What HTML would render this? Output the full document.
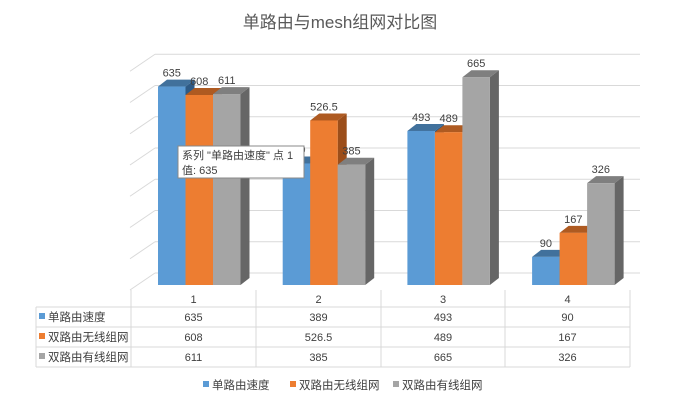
<!DOCTYPE html>
<html><head><meta charset="utf-8"><style>
body{margin:0;background:#fff;}
svg text{font-family:"Liberation Sans","Noto Sans CJK SC",sans-serif;}
</style></head><body>
<svg width="680" height="406" id="c">
<text x="340" y="28" text-anchor="middle" font-size="17" fill="#595959">单路由与mesh组网对比图</text>
<g id="grid"></g><g id="bars"></g><g id="table"></g>
<g>
<rect x="178" y="146" width="126" height="32" fill="#fff" stroke="#888" stroke-width="1"/>
<text x="182" y="159" font-size="11" fill="#404040">系列 "单路由速度" 点 1</text>
<text x="182" y="174" font-size="11" fill="#404040">值: 635</text>
</g>
<g id="legend"></g>
</svg>
<script>
const categories=["1","2","3","4"];
const seriesNames=["单路由速度","双路由无线组网","双路由有线组网"];
const s1=[635,389,493,90];
const s2=[608,526.5,489,167];
const s3=[611,385,665,326];
const ticks=[0,100,200,300,400,500,600,700];
const series=[s1,s2,s3];
const cols=["#5b9bd5","#ed7d31","#a5a5a5"];
const tops=["#41719c","#ae5a21","#7f7f7f"];
const sides=["#2e5a85","#9c4e1a","#666666"];
const NS="http://www.w3.org/2000/svg";
function mk(p,tag,a){const e=document.createElementNS(NS,tag);for(const k in a)e.setAttribute(k,a[k]);p.appendChild(e);return e;}
const yF=v=>285-v*0.3125, yB=v=>273-v*0.3125;
const G=document.getElementById('grid');
ticks.forEach(t=>{
 const l=mk(G,'line',{x1:155,x2:640,y1:yB(t),y2:yB(t),stroke:"#d9d9d9","stroke-width":1});
 
 
 const d=mk(G,'line',{x1:130,x2:155,y1:yB(t)+17,y2:yB(t),stroke:"#d9d9d9","stroke-width":1});
 
 
});
const B=document.getElementById('bars');
const bw=27.5,dx=9,dy=7;
categories.forEach((c,i)=>{
 const gx=158+i*124.7;
 series.forEach((s,j)=>{
  const v=s[i],x=gx+j*bw,y=yF(v),h=285-y;
  const g=mk(B,'g',{});
  
  
  mk(g,'polygon',{points:`${x+bw},${y} ${x+bw+dx},${y-dy} ${x+bw+dx},${285-dy} ${x+bw},285`,fill:sides[j]});
  mk(g,'polygon',{points:`${x},${y} ${x+dx},${y-dy} ${x+bw+dx},${y-dy} ${x+bw},${y}`,fill:tops[j]});
  mk(g,'rect',{x:x,y:y,width:bw,height:h,fill:cols[j]});
  const t=mk(g,'text',{x:x+bw/2,y:y-10,"text-anchor":"middle","font-size":11,fill:"#404040"});
  t.textContent=v;
 });
});
const T=document.getElementById('table');
const cx=[131,256,381,505,630];
mk(T,'line',{x1:131,x2:131,y1:290,y2:367,stroke:"#d9d9d9"});
cx.slice(1).forEach(x=>mk(T,'line',{x1:x,x2:x,y1:290,y2:367,stroke:"#d9d9d9"}));
[307,327,347,367].forEach(y=>mk(T,'line',{x1:36,x2:630,y1:y,y2:y,stroke:"#d9d9d9"}));
mk(T,'line',{x1:36,x2:36,y1:307,y2:367,stroke:"#d9d9d9"});
categories.forEach((c,i)=>{
 const t=mk(T,'text',{x:(cx[i]+cx[i+1])/2,y:303,"text-anchor":"middle","font-size":11,fill:"#404040"});
 
 
 t.textContent=c;
});
series.forEach((s,j)=>{
 const ry=321+j*20;
 mk(T,'rect',{x:39,y:ry-8,width:6,height:6,fill:cols[j]});
 const lt=mk(T,'text',{x:48,y:ry,"font-size":11.5,fill:"#404040"});
 
 
 lt.textContent=seriesNames[j];
 s.forEach((v,i)=>{
  const t=mk(T,'text',{x:(cx[i]+cx[i+1])/2,y:ry,"text-anchor":"middle","font-size":11,fill:"#404040"});
  
  
  t.textContent=v;
 });
});
const L=document.getElementById('legend');
const lx=[203,290,393];
seriesNames.forEach((n,j)=>{
 const g=mk(L,'g',{});
 
 
 mk(g,'rect',{x:lx[j],y:381,width:6,height:6,fill:cols[j]});
 const t=mk(g,'text',{x:lx[j]+9,y:389,"font-size":11.5,fill:"#404040"});
 t.textContent=n;
});
</script>
</body></html>
